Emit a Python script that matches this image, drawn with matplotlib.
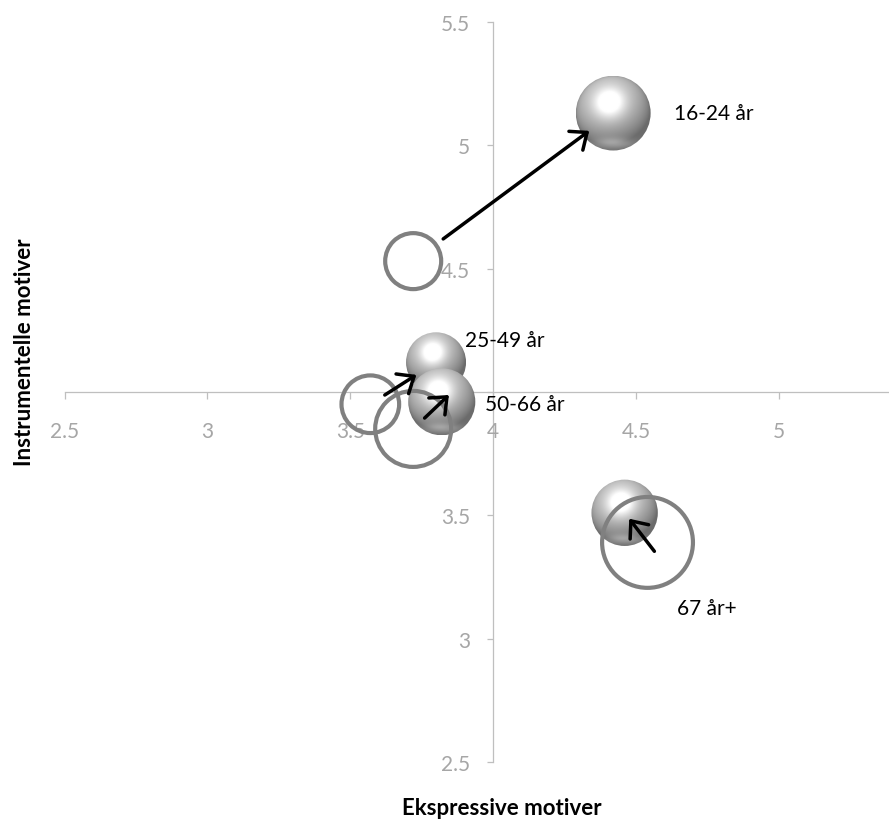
import numpy as np
import matplotlib
matplotlib.use("Agg")
import matplotlib.pyplot as plt
from matplotlib.patches import Ellipse

plt.rcParams['font.family'] = ['Lato', 'DejaVu Sans']

# age groups
groups = ['16-24 år', '25-49 år', '50-66 år', '67 år+']

# earlier measurement (hollow bubbles)
x_before = [3.72, 3.57, 3.72, 4.54]
y_before = [4.53, 3.95, 3.85, 3.39]
size_before = [36, 38, 64, 90]

# later measurement (filled spheres)
x_after = [4.42, 3.80, 3.82, 4.46]
y_after = [5.13, 4.12, 3.96, 3.51]
size_after = [56, 36, 45, 44]

xticks = [2.5, 3, 3.5, 4, 4.5, 5]
yticks = [2.5, 3, 3.5, 4, 4.5, 5, 5.5]

# arrow start/end as fraction of the way from hollow to filled bubble
arrow_frac = [(0.15, 0.88), (0.22, 0.70), (0.40, 1.25), (-0.30, 0.80)]
# label offsets in pixels from the filled bubble
label_off = [(61, 0), (29, 22), (43, -2), (52, -95)]

fig = plt.figure(figsize=(8.89, 8.20), dpi=100)
ax = fig.add_axes([0.0726, 0.0695, 0.9274, 0.9027])
ax.set_xlim(2.5, 5.385)
ax.set_ylim(2.5, 5.5)

# pixels per data unit
px_x = ax.bbox.width / (5.385 - 2.5)
px_y = ax.bbox.height / (5.5 - 2.5)


def sphere(n=200):
    v, u = np.mgrid[1:-1:complex(0, n), -1:1:complex(0, n)]
    r2 = u**2 + v**2
    z = np.sqrt(np.clip(1 - r2, 0, 1))
    L = np.array([-0.2, 0.55, 0.8])
    L = L / np.linalg.norm(L)
    diff = np.clip(u*L[0] + v*L[1] + z*L[2], 0, 1)
    H = L + np.array([0, 0, 1.0])
    H = H / np.linalg.norm(H)
    spec = np.clip(u*H[0] + v*H[1] + z*H[2], 0, 1) ** 12
    refl = 0.2 * np.exp(-((v + 0.8)**2) / 0.02) * np.exp(-(u**2) / 0.3)
    g = 0.42 + 0.40*diff + 0.35*spec + refl
    g = np.clip(g, 0, 1)
    img = np.dstack([g, g, g])
    return img


sph = sphere()

for i in range(len(groups)):
    # hollow bubble
    d = 10*np.sqrt(size_before[i]) - 4
    ax.add_patch(Ellipse((x_before[i], y_before[i]), d/px_x, d/px_y,
                         facecolor='none', edgecolor='#808080', lw=3.0, zorder=3))
    # filled sphere
    d = 10*np.sqrt(size_after[i])
    w, h = d/px_x, d/px_y
    clip = Ellipse((x_after[i], y_after[i]), w, h, facecolor='none',
                   edgecolor='none', transform=ax.transData)
    ax.add_patch(clip)
    im = ax.imshow(sph, extent=[x_after[i]-w/2, x_after[i]+w/2,
                                y_after[i]-h/2, y_after[i]+h/2],
                   aspect='auto', interpolation='bilinear', zorder=2 + i*0.01)
    im.set_clip_path(clip)

for i in range(len(groups)):
    dx = x_after[i] - x_before[i]
    dy = y_after[i] - y_before[i]
    a, b = arrow_frac[i]
    ax.annotate('', xy=(x_before[i] + b*dx, y_before[i] + b*dy),
                xytext=(x_before[i] + a*dx, y_before[i] + a*dy),
                arrowprops=dict(arrowstyle='->,head_length=0.5,head_width=0.42',
                                lw=2.5, color='black', mutation_scale=20,
                                shrinkA=0, shrinkB=0), zorder=5)
    ax.annotate(groups[i], (x_after[i], y_after[i]), xytext=label_off[i],
                textcoords='offset pixels', ha='left', va='center',
                fontsize=15, color='black', zorder=6)

ax.set_xlim(2.5, 5.385)
ax.set_ylim(2.5, 5.5)

for s in ['top', 'right']:
    ax.spines[s].set_visible(False)
ax.spines['left'].set_position(('data', 4))
ax.spines['bottom'].set_position(('data', 4))
for s in ['left', 'bottom']:
    ax.spines[s].set_color('#bfbfbf')
    ax.spines[s].set_linewidth(0.9)
    ax.spines[s].set_zorder(1)

ax.set_xticks(xticks)
ax.set_xticklabels([f'{t:g}' for t in xticks])
ax.set_yticks(yticks)
ax.set_yticklabels([f'{t:g}' for t in yticks])
ax.tick_params(axis='x', direction='out', length=5, width=0.9, color='#bfbfbf',
               labelcolor='#a6a6a6', labelsize=15, pad=16)
ax.tick_params(axis='y', direction='out', length=4.5, width=0.9, color='#bfbfbf',
               labelcolor='#a6a6a6', labelsize=15, pad=12)
ax.patch.set_alpha(0)

fig.text(0.565, 0.0146, 'Ekspressive motiver', ha='center', va='center',
         fontsize=16, fontweight='bold')
fig.text(0.028, 0.57, 'Instrumentelle motiver', ha='center', va='center',
         rotation=90, fontsize=16, fontweight='bold')

fig.savefig('out.png', dpi=100)
